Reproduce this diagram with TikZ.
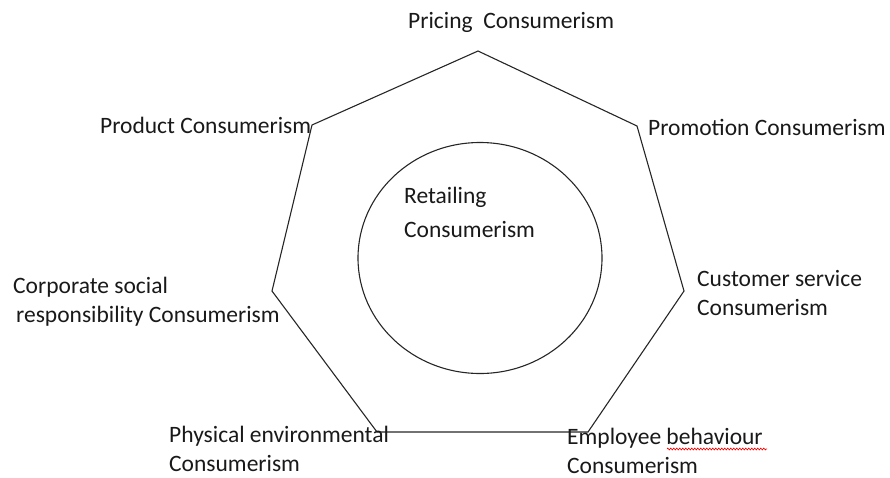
\documentclass[tikz,border=0pt]{standalone}
\usepackage{fontspec}
\setmainfont{Carlito}
\usetikzlibrary{decorations.pathmorphing}

\tikzset{
  label text/.style={anchor=base west, inner sep=0pt, align=left, text=black!90,
    font=\fontsize{23.5}{28.5}\selectfont},
  edge line/.style={black!85, line width=1.1pt, line join=miter}
}

\begin{document}
\begin{tikzpicture}[x=1pt, y=-1pt]
            \useasboundingbox (0,0) rectangle (890,477);
            \coordinate (pricing) at (478,51);
            \coordinate (promotion) at (637,126);
            \coordinate (service) at (684,291);
            \coordinate (employee) at (588,432);
            \coordinate (physical) at (377,432);
            \coordinate (social) at (272,291);
            \coordinate (product) at (312,125);
            \draw[edge line] (pricing)--(promotion)--(service)--(employee)--(physical)--(social)--(product)--cycle;
            \draw[edge line] (480,258) ellipse [x radius=122, y radius=115.5];
            \node[label text] (retailing) at (404,237) {Retailing\\[5pt]Consumerism};
            \node[label text] (pricinglbl) at (408,28) {Pricing\ \ Consumerism};
            \node[label text] (productlbl) at (100,133) {Product Consumerism};
            \node[label text] (promotionlbl) at (648,135) {Promotion Consumerism};
            \node[label text] (servicelbl) at (697,315) {Customer service\\Consumerism};
            \node[label text] (sociallbl) at (13,322) {Corporate social\\\hspace{3pt}responsibility Consumerism};
            \node[label text] (physicallbl) at (169,471) {Physical environmental\\Consumerism};
            \node[label text] (employeelbl) at (567,473) {Employee behaviour\\Consumerism};
            \draw[red, line width=0.6pt, decorate, decoration={zigzag, segment length=3pt, amplitude=1pt}] (667,449) -- (767,449);
        \end{tikzpicture}
\end{document}
